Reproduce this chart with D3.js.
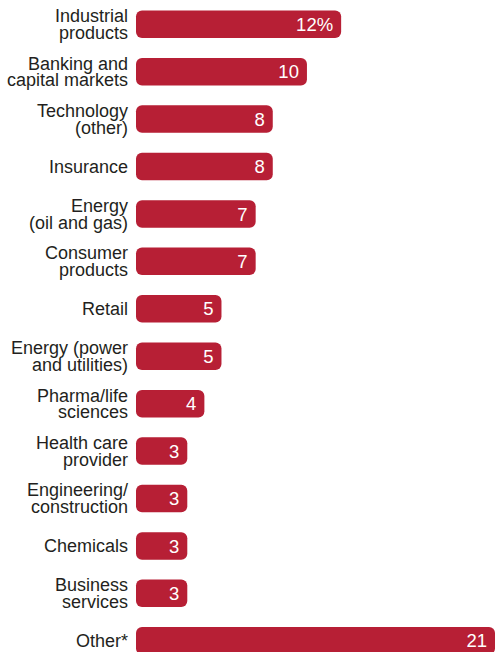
<!DOCTYPE html>
<html>
<head>
<meta charset="utf-8">
<script src="https://cdn.jsdelivr.net/npm/d3@7"></script>
<style>
  html, body { margin: 0; padding: 0; background: #fff; }
  svg { display: block; }
</style>
</head>
<body>
<div id="chart"></div>
<script>
// Share of respondents by industry
const categories = [
  ["Industrial", "products"],
  ["Banking and", "capital markets"],
  ["Technology", "(other)"],
  ["Insurance"],
  ["Energy", "(oil and gas)"],
  ["Consumer", "products"],
  ["Retail"],
  ["Energy (power", "and utilities)"],
  ["Pharma/life", "sciences"],
  ["Health care", "provider"],
  ["Engineering/", "construction"],
  ["Chemicals"],
  ["Business", "services"],
  ["Other*"]
];
const values = [12, 10, 8, 8, 7, 7, 5, 5, 4, 3, 3, 3, 3, 21];
const valueLabels = ["12%", "10", "8", "8", "7", "7", "5", "5", "4", "3", "3", "3", "3", "21"];

const width = 495, height = 652;
const barLeft = 136, barRight = 495;
const barColor = "#b71f35";
const fontFamily = "'Liberation Sans', Arial, Helvetica, sans-serif";

const svg = d3.select("#chart").append("svg")
  .attr("width", width).attr("height", height);

const x = d3.scaleLinear().domain([0, 21]).range([barLeft, barRight]);
const y = d3.scaleBand()
  .domain(d3.range(values.length))
  .range([1, 664])
  .paddingInner(0.42)
  .paddingOuter(0.2);

const rows = svg.selectAll("g.row")
  .data(values.map((v, i) => ({ v, i, cat: categories[i], lab: valueLabels[i] })))
  .join("g").attr("class", "row");

rows.append("rect")
  .attr("x", x(0))
  .attr("y", d => y(d.i))
  .attr("width", d => x(d.v) - x(0))
  .attr("height", y.bandwidth())
  .attr("rx", 6).attr("ry", 6)
  .attr("fill", barColor);

rows.append("text")
  .attr("x", d => x(d.v) - 8)
  .attr("y", d => y(d.i) + y.bandwidth() / 2)
  .attr("dy", "0.36em")
  .attr("text-anchor", "end")
  .attr("fill", "#fff")
  .style("font-family", fontFamily)
  .style("font-size", "18.5px")
  .text(d => d.lab);

const catText = rows.append("text")
  .attr("text-anchor", "end")
  .attr("fill", "#231f20")
  .style("font-family", fontFamily)
  .style("font-size", "18px");

catText.each(function(d) {
  const cy = y(d.i) + y.bandwidth() / 2;
  const n = d.cat.length;
  const lh = 16.8;
  d3.select(this).selectAll("tspan")
    .data(d.cat)
    .join("tspan")
    .attr("x", 128)
    .attr("y", (t, k) => cy + (k - (n - 1) / 2) * lh)
    .attr("dy", "0.35em")
    .text(t => t);
});
</script>
</body>
</html>
